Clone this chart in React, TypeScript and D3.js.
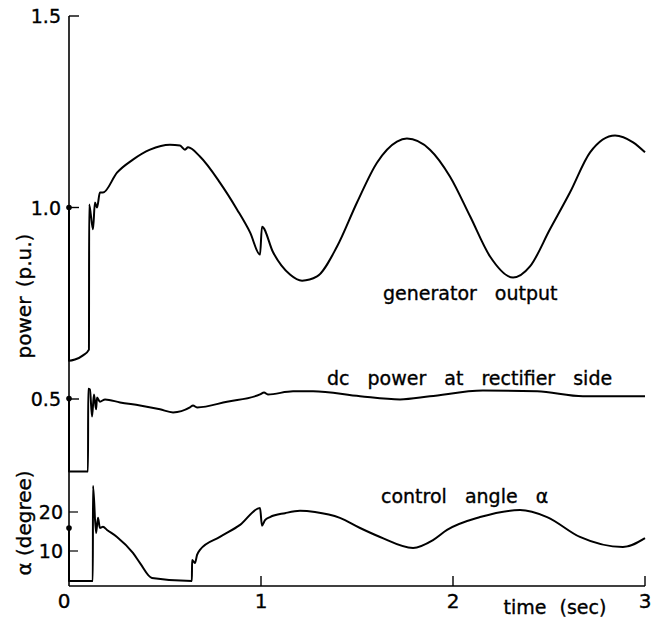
import React, { useRef, useEffect } from "react";
import * as d3 from "d3";

const W = 654;
const H = 627;

// time (sec), power (p.u.) — generator output
const GEN_T = [0, 0, 0.031, 0.073, 0.104, 0.105, 0.125, 0.135, 0.146, 0.161, 0.177, 0.25, 0.333, 0.422, 0.526, 0.578, 0.604, 0.62, 0.682, 0.786, 0.875, 0.943, 0.995, 1.005, 1.063, 1.151, 1.214, 1.292, 1.396, 1.5, 1.604, 1.708, 1.76, 1.88, 1.984, 2.089, 2.193, 2.313, 2.401, 2.505, 2.609, 2.714, 2.844, 2.938, 3.0];
const GEN_P = [1.0, 0.6, 0.603, 0.614, 0.629, 1.008, 0.943, 1.013, 1.0, 1.039, 1.039, 1.091, 1.125, 1.151, 1.164, 1.162, 1.151, 1.157, 1.133, 1.065, 0.995, 0.935, 0.877, 0.95, 0.883, 0.825, 0.809, 0.82, 0.898, 1.013, 1.117, 1.172, 1.18, 1.151, 1.081, 0.977, 0.872, 0.817, 0.846, 0.943, 1.039, 1.144, 1.188, 1.17, 1.144];

// dc power at rectifier side
const DC_T = [0, 0, 0.099, 0.1, 0.109, 0.12, 0.13, 0.141, 0.146, 0.161, 0.188, 0.266, 0.37, 0.474, 0.542, 0.63, 0.646, 0.667, 0.823, 0.995, 1.016, 1.036, 1.167, 1.271, 1.516, 1.724, 1.88, 2.156, 2.438, 2.677, 3.0];
const DC_P = [0.501, 0.311, 0.311, 0.527, 0.525, 0.454, 0.512, 0.473, 0.504, 0.493, 0.499, 0.491, 0.483, 0.473, 0.465, 0.478, 0.483, 0.478, 0.493, 0.512, 0.517, 0.512, 0.52, 0.52, 0.507, 0.499, 0.507, 0.522, 0.52, 0.507, 0.507];

// control angle alpha (degree)
const ALPHA_T = [0, 0, 0.124, 0.125, 0.141, 0.151, 0.161, 0.177, 0.198, 0.25, 0.333, 0.37, 0.432, 0.64, 0.641, 0.656, 0.667, 0.682, 0.786, 0.891, 0.995, 1.005, 1.021, 1.047, 1.125, 1.203, 1.281, 1.411, 1.516, 1.62, 1.792, 1.896, 1.969, 2.141, 2.349, 2.49, 2.661, 2.885, 3.0];
const ALPHA_V = [15.9, 2.3, 2.3, 26.7, 14.6, 18.5, 15.9, 16.2, 15.4, 13.6, 9.5, 6.9, 3.1, 2.3, 7.7, 6.9, 9.0, 10.3, 13.6, 16.7, 21.0, 16.5, 17.9, 18.7, 19.7, 20.3, 20.0, 18.5, 15.9, 13.6, 10.8, 12.8, 15.4, 18.7, 20.5, 18.7, 13.6, 11.0, 13.3];

const X_TICKS = [1, 2, 3];
const P_TICKS = [0.5, 1.0, 1.5];
const A_TICKS = [10, 20];

const FONT = "DejaVu Sans, sans-serif";

export default function App() {
  const svgRef = useRef<SVGSVGElement>(null);

  useEffect(() => {
    const svg = d3.select(svgRef.current);
    svg.selectAll("*").remove();

    const x = d3.scaleLinear().domain([0, 3]).range([69, 645]);
    const yP = d3.scaleLinear().domain([0.5, 1.5]).range([399, 16]);
    const yA = d3.scaleLinear().domain([0, 20]).range([590, 512]);
    const axisY = 586;

    // hand-lettered look: slightly heavier text
    const txt = (sel: d3.Selection<SVGTextElement, unknown, null, undefined>, size: number) =>
      sel.attr("font-family", FONT).attr("font-size", size)
        .attr("fill", "#000").attr("stroke", "#000").attr("stroke-width", 0.35);

    // axes
    svg.append("line")
      .attr("x1", x(0)).attr("x2", x(0))
      .attr("y1", yP(1.5)).attr("y2", axisY)
      .attr("stroke", "#000").attr("stroke-width", 1.6);
    svg.append("line")
      .attr("x1", x(0)).attr("x2", x(3))
      .attr("y1", axisY).attr("y2", axisY)
      .attr("stroke", "#000").attr("stroke-width", 1.6);

    X_TICKS.forEach((t) => {
      svg.append("line")
        .attr("x1", x(t)).attr("x2", x(t))
        .attr("y1", axisY).attr("y2", axisY - 10)
        .attr("stroke", "#000").attr("stroke-width", 1.4);
    });
    [0, ...X_TICKS].forEach((t) => {
      txt(svg.append("text"), 20)
        .attr("x", x(t) - (t === 0 ? 5 : 0)).attr("y", 608)
        .attr("text-anchor", "middle")
        .text(String(t));
    });

    P_TICKS.forEach((p) => {
      svg.append("line")
        .attr("x1", x(0)).attr("x2", x(0) + 10)
        .attr("y1", yP(p)).attr("y2", yP(p))
        .attr("stroke", "#000").attr("stroke-width", 1.4);
      txt(svg.append("text"), 19)
        .attr("x", 61).attr("y", yP(p) + 7)
        .attr("text-anchor", "end")
        .text(p.toFixed(1));
    });
    A_TICKS.forEach((a) => {
      svg.append("line")
        .attr("x1", x(0)).attr("x2", x(0) + 9)
        .attr("y1", yA(a)).attr("y2", yA(a))
        .attr("stroke", "#000").attr("stroke-width", 1.2);
      txt(svg.append("text"), 19)
        .attr("x", 63).attr("y", yA(a) + 7)
        .attr("text-anchor", "end")
        .text(String(a));
    });

    // curves
    const line = d3.line<[number, number]>().curve(d3.curveMonotoneX);
    const drawCurve = (ts: number[], vs: number[], ys: d3.ScaleLinear<number, number>) => {
      const pts = ts.map((t, i) => [x(t), ys(vs[i])] as [number, number]);
      svg.append("path")
        .attr("d", line(pts))
        .attr("fill", "none")
        .attr("stroke", "#000")
        .attr("stroke-width", 2)
        .attr("stroke-linejoin", "round");
      svg.append("circle")
        .attr("cx", pts[0][0]).attr("cy", pts[0][1])
        .attr("r", 2.8).attr("fill", "#000");
    };
    drawCurve(GEN_T, GEN_P, yP);
    drawCurve(DC_T, DC_P, yP);
    drawCurve(ALPHA_T, ALPHA_V, yA);

    // curve labels
    const label = (s: string, lx: number, ly: number, ws: number) => {
      txt(svg.append("text"), 19)
        .attr("x", lx).attr("y", ly)
        .attr("word-spacing", ws)
        .text(s);
    };
    label("generator output", 383, 300, 12);
    label("dc power at rectifier side", 327, 385, 12);
    label("control angle α", 381, 503, 12);

    // axis titles
    txt(svg.append("text"), 20)
      .attr("transform", "translate(31,296) rotate(-90)")
      .attr("text-anchor", "middle")
      .attr("word-spacing", 3)
      .text("power (p.u.)");
    txt(svg.append("text"), 20)
      .attr("transform", "translate(31,523) rotate(-90)")
      .attr("text-anchor", "middle")
      .text("α (degree)");
    txt(svg.append("text"), 19)
      .attr("x", 555).attr("y", 614)
      .attr("text-anchor", "middle")
      .attr("word-spacing", 7)
      .text("time (sec)");
  }, []);

  return (
    <svg
      ref={svgRef}
      width={W}
      height={H}
      style={{ position: "absolute", left: 0, top: 0, background: "#fff" }}
    />
  );
}
